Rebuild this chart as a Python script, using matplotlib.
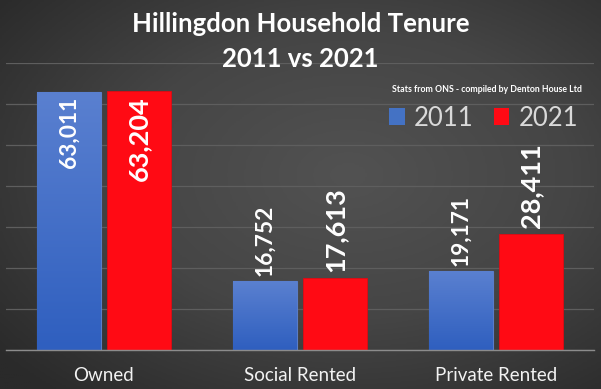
import numpy as np
import matplotlib.pyplot as plt
from matplotlib.colors import LinearSegmentedColormap
from matplotlib.patches import Patch

categories = ['Owned', 'Social Rented', 'Private Rented']
years = ['2011', '2021']
values_2011 = [63011, 16752, 19171]
values_2021 = [63204, 17613, 28411]
labels_2011 = ['63,011', '16,752', '19,171']
labels_2021 = ['63,204', '17,613', '28,411']

plt.rcParams['font.family'] = ['Lato', 'DejaVu Sans']

W, H = 601, 389
fig = plt.figure(figsize=(W / 100, H / 100), dpi=100)

# fond gris avec dégradé radial
bg = fig.add_axes([0, 0, 1, 1], zorder=-10)
yy, xx = np.mgrid[0:1:200j, 0:1:300j]
r = np.sqrt(((xx - 0.58) / 0.75) ** 2 + ((yy - 0.45) / 0.75) ** 2)
bg_cmap = LinearSegmentedColormap.from_list('bg', ['#525252', '#454545', '#2a2a2a'])
bg.imshow(np.clip(r, 0, 1), cmap=bg_cmap, vmin=0, vmax=1, aspect='auto', extent=[0, 1, 0, 1])
bg.axis('off')

ax = fig.add_axes([6 / W, 39 / H, 588 / W, 287 / H])
ax.set_facecolor('none')

x = np.arange(len(categories))
width = 0.3265
offset = 0.1786

bars_2011 = ax.bar(x - offset, values_2011, width, color='#4472c4', edgecolor='#5a7dc8', linewidth=0.8, zorder=2)
bars_2021 = ax.bar(x + offset, values_2021, width, color='#ff0a14', edgecolor='#e00a12', linewidth=0.6, zorder=2)

# dégradé sur les barres bleues
blue_cmap = LinearSegmentedColormap.from_list('blue', ['#2f5fbf', '#5a80d0'])
grad = np.linspace(0, 1, 100).reshape(-1, 1)
for b in bars_2011:
    im = ax.imshow(grad, cmap=blue_cmap, aspect='auto', origin='lower',
                   extent=[b.get_x(), b.get_x() + b.get_width(), 0, b.get_height()], zorder=2.5)
    im.set_clip_path(b)

ax.set_xlim(-0.5, 2.5)
ax.set_ylim(0, 70000)
ax.set_yticks(np.arange(0, 70001, 10000))
ax.yaxis.grid(True, color='#5e5e5e', linewidth=0.9, zorder=0)
ax.set_axisbelow(True)
ax.tick_params(axis='y', left=False, labelleft=False)
ax.set_xticks(x)
ax.set_xticklabels(categories, fontsize=13.5, color='#f2f2f2')
ax.tick_params(axis='x', length=0, pad=12)
for s in ['top', 'left', 'right']:
    ax.spines[s].set_visible(False)
ax.spines['bottom'].set_color('#8c8c8c')
ax.spines['bottom'].set_linewidth(1)

# étiquettes de valeurs
for bars, labels, size in [(bars_2011, labels_2011, 16.4), (bars_2021, labels_2021, 19.5)]:
    for b, lab in zip(bars, labels):
        cx = b.get_x() + b.get_width() / 2
        h = b.get_height()
        if h > 50000:
            ax.annotate(lab, (cx, h), xytext=(0, -4), textcoords='offset points', rotation=90,
                        ha='center', va='top', fontsize=size, fontweight='bold', color='white', zorder=5)
        else:
            ax.annotate(lab, (cx, h), xytext=(0, 4), textcoords='offset points', rotation=90,
                        ha='center', va='bottom', fontsize=size, fontweight='bold', color='white', zorder=5)

fig.text(0.5, 1 - 24 / H, 'Hillingdon Household Tenure', ha='center', va='center',
         fontsize=18.5, fontweight='bold', color='white')
fig.text(0.5, 1 - 59 / H, '2011 vs 2021', ha='center', va='center',
         fontsize=18.5, fontweight='bold', color='white')
fig.text(582 / W, 1 - 90 / H, 'Stats from ONS - compiled by Denton House Ltd', ha='right', va='center',
         fontsize=6.3, fontweight='bold', color='white')

handles = [Patch(facecolor='#4472c4', edgecolor='none'), Patch(facecolor='#ff0a14', edgecolor='none')]
fig.legend(handles, years, loc='center right', bbox_to_anchor=(578 / W, 1 - 118 / H), ncol=2,
           frameon=False, fontsize=18.5, labelcolor='#d9d9d9', handlelength=0.6, handleheight=0.6,
           handletextpad=0.35, columnspacing=0.8, borderpad=0, borderaxespad=0)

fig.savefig('out.png', dpi=100)
